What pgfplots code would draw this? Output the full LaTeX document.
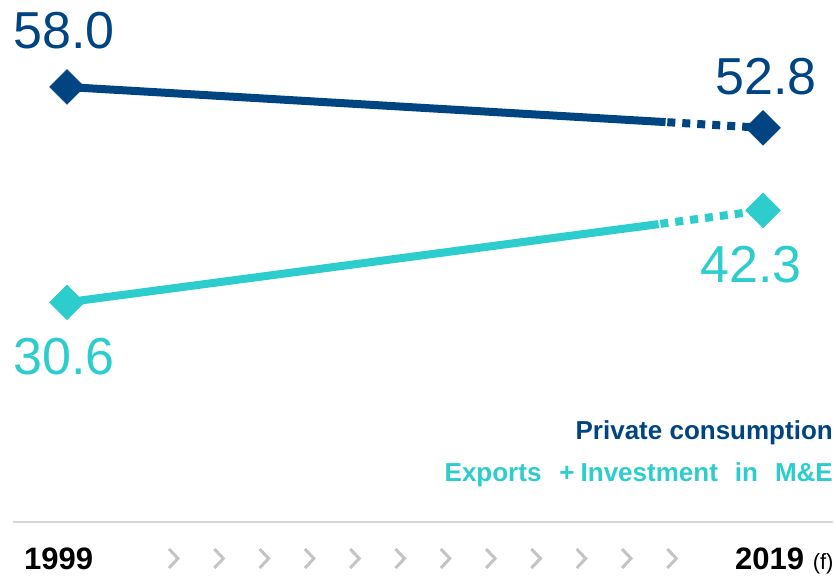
\documentclass[border=0pt]{standalone}
\usepackage{pgfplots}
\pgfplotsset{compat=1.18}
\usepackage{fontspec}
\setmainfont{Liberation Sans}
\definecolor{navy}{HTML}{004481}
\definecolor{aqua}{HTML}{2DCCCD}
\definecolor{chev}{HTML}{C4C4C4}
\definecolor{sep}{HTML}{D9D9D9}
\begin{document}
\begin{tikzpicture}[x=1bp,y=1bp]
\path[use as bounding box] (0,0) rectangle (836,576);
\begin{axis}[
  at={(67bp,273.7bp)}, anchor=south west,
  hide axis, scale only axis,
  width=696bp, height=215.3bp,
  xmin=1999, xmax=2019, ymin=30.6, ymax=58.0,
  clip=false,
]
% Private consumption
\addplot[navy, line width=8bp, line cap=butt, no marks] coordinates {(1999,58.0) (2016.2,53.53)};
\addplot[navy, line width=8bp, line cap=butt, dash pattern=on 8bp off 7bp, no marks] coordinates {(2016.25,53.52) (2019,52.8)};
\addplot[navy, only marks, mark=square*, mark size=12.3bp, mark options={solid, rotate=45, fill=navy, draw=navy, line width=0.5bp}] coordinates {(1999,58.0) (2019,52.8)};
% Exports + Investment in M&E
\addplot[aqua, line width=8bp, line cap=butt, no marks] coordinates {(1999,30.6) (2016.0,40.55)};
\addplot[aqua, line width=8bp, line cap=butt, dash pattern=on 8bp off 7bp, no marks] coordinates {(2016.05,40.58) (2019,42.3)};
\addplot[aqua, only marks, mark=square*, mark size=12.3bp, mark options={solid, rotate=45, fill=aqua, draw=aqua, line width=0.5bp}] coordinates {(1999,30.6) (2019,42.3)};
\end{axis}
% value labels
\begin{scope}[every node/.style={inner sep=0pt, font=\fontsize{52bp}{52bp}\selectfont}]
\node[anchor=base west, text=navy] at (13,527) {58.0};
\node[anchor=base east, text=navy] at (817,481) {52.8};
\node[anchor=base east, text=aqua] at (802,293) {42.3};
\node[anchor=base west, text=aqua] at (13,201) {30.6};
\end{scope}
% legend
\node[anchor=base east, inner sep=0pt, text=navy, font=\bfseries\fontsize{26bp}{26bp}\selectfont] at (833,136) {Private consumption};
\node[anchor=base east, inner sep=0pt, text=aqua, font=\bfseries\fontsize{26bp}{26bp}\selectfont] at (833,94) {Exports\hspace{18bp}+\hspace{6bp}Investment\hspace{17bp}in\hspace{17bp}M\&E};
% separator
\draw[sep, line width=1.3bp] (13,54) -- (833,54);
% timeline
\node[anchor=base west, inner sep=0pt, font=\bfseries\fontsize{31bp}{31bp}\selectfont] at (24,6) {1999};
\node[anchor=base west, inner sep=0pt, font=\bfseries\fontsize{31bp}{31bp}\selectfont] at (735,6) {2019 {\mdseries\fontsize{22bp}{22bp}\selectfont(f)}};
\foreach \i in {0,...,11} {
  \draw[chev, line width=3bp, line cap=butt, line join=miter] ({169+\i*45.3},27) -- ({178+\i*45.3},17.5) -- ({169+\i*45.3},8);
}
\end{tikzpicture}
\end{document}
